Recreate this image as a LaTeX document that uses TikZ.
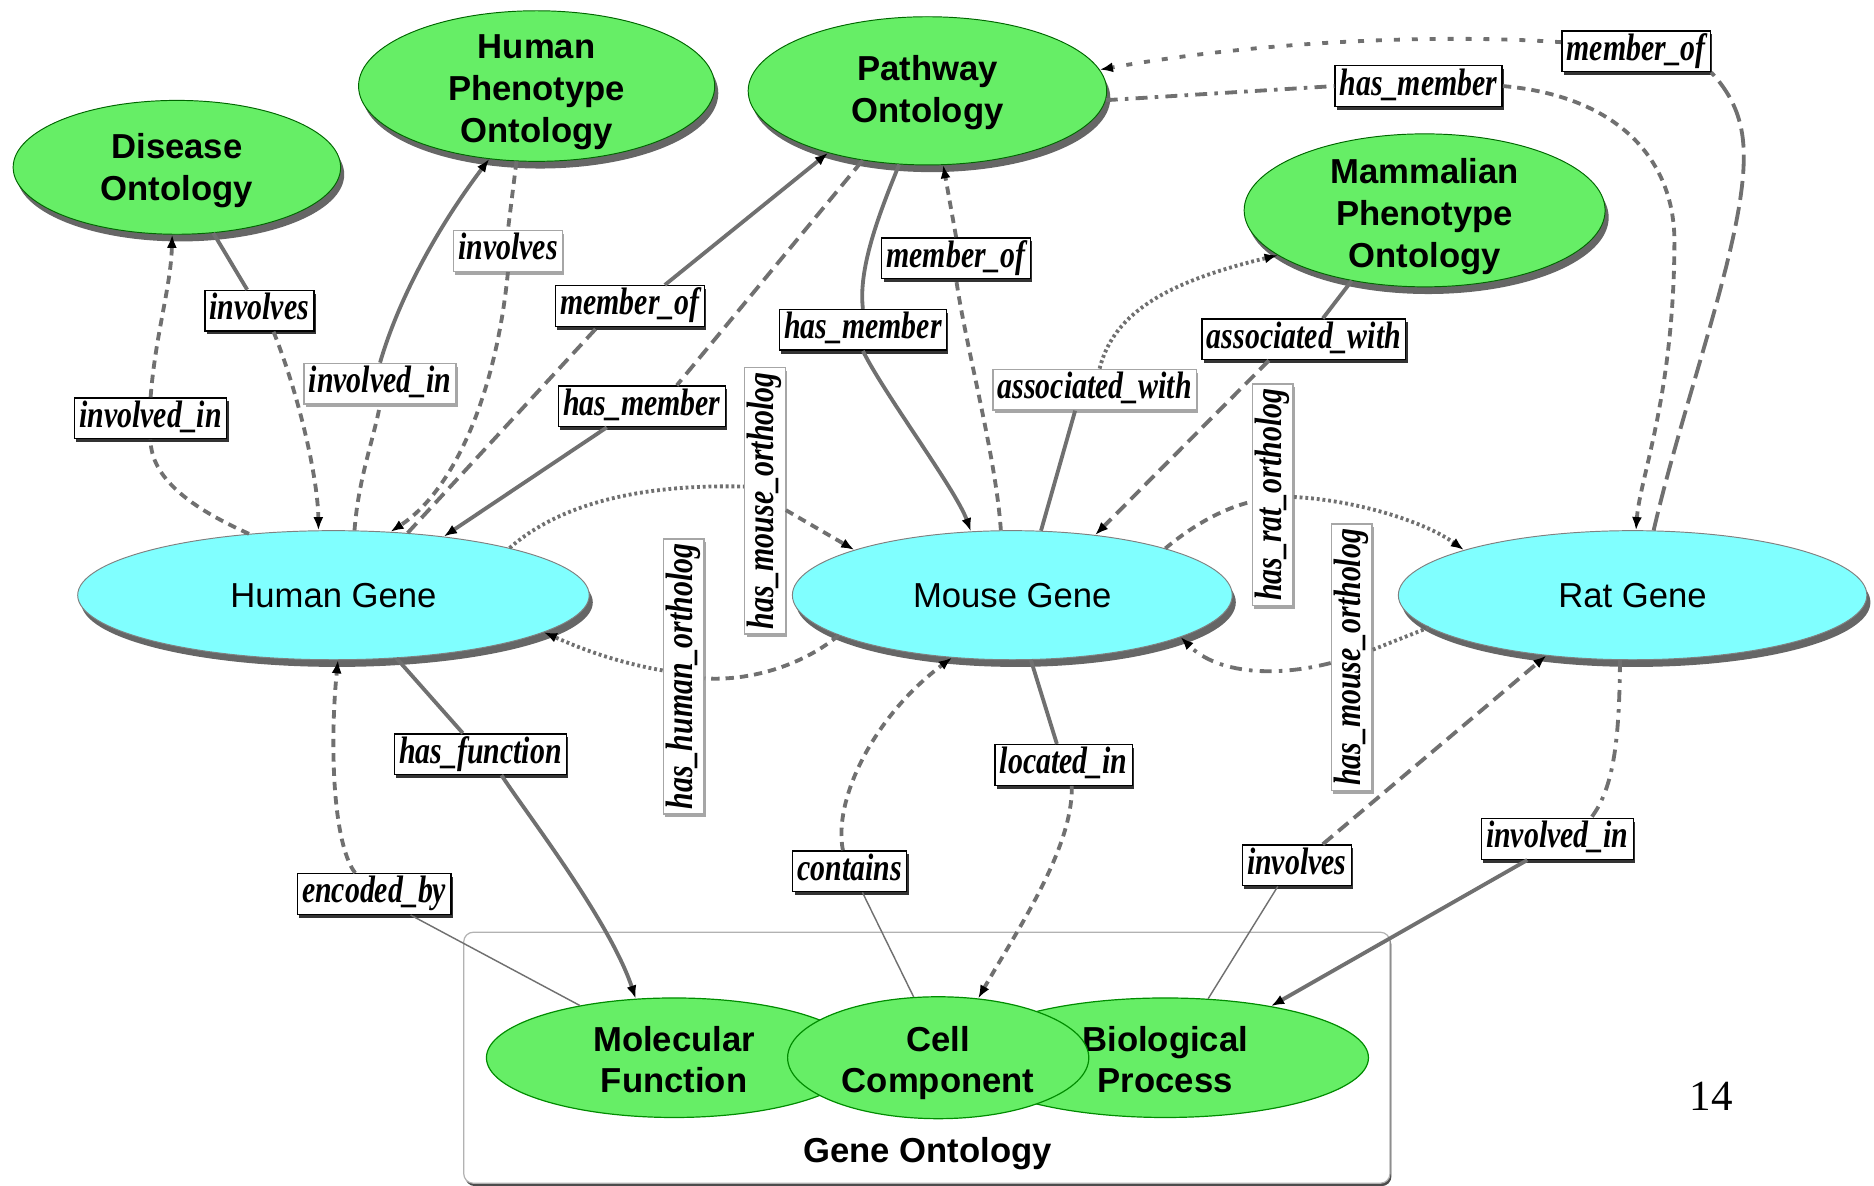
\documentclass[tikz,border=0pt]{standalone}
\usepackage{fontspec}
\setmainfont{Liberation Serif}
\setsansfont{Liberation Sans}
\usetikzlibrary{shapes.geometric,shadows,arrows.meta}
\definecolor{ontgreen}{RGB}{102,238,102}
\definecolor{genecyan}{RGB}{128,255,255}
\definecolor{edgegray}{RGB}{112,112,112}
\newcommand\lb[1]{\scalebox{0.78}[1]{#1}}
\newcommand\ml[2][-1.5pt]{\raisebox{#1}[\height][\depth]{\begin{tabular}{@{}c@{}}#2\end{tabular}}}
\begin{document}
\begin{tikzpicture}[x=0.5pt,y=-0.5pt,
  ont/.style={ellipse, draw=black!60!green, line width=0.4pt, fill=ontgreen, inner sep=-12pt,
    font=\fontsize{14.5}{17.5}\selectfont\sffamily\bfseries},
  gont/.style={ont, draw=black!45!green, line width=0.5pt},
  gene/.style={ellipse, draw=black!50, line width=0.4pt, fill=genecyan, inner sep=-12pt,
    font=\fontsize{14.5}{17}\selectfont\sffamily},
  shad/.style={drop shadow={shadow xshift=1.5pt, shadow yshift=-3pt, fill=black!60, opacity=1}},
  lab/.style={rectangle, fill=white, line width=0.6pt, inner xsep=2pt, inner ysep=0pt, minimum height=17pt,
    text height=11pt, text depth=3.5pt, font=\fontsize{16}{16}\selectfont\bfseries\itshape},
  blab/.style={lab, draw=black, drop shadow={shadow xshift=0.8pt, shadow yshift=-1.4pt, fill=black!80, opacity=1}},
  glab/.style={lab, draw=black!35, drop shadow={shadow xshift=0.8pt, shadow yshift=-1.4pt, fill=black!35, opacity=1}},
  edg/.style={draw=edgegray, line width=1.6pt},
  thinedg/.style={line width=0.6pt},
  arr/.style={-{Latex[length=5.5pt,width=4.2pt,color=black]}},
  sdsh/.style={dash pattern=on 3.5pt off 2.5pt},
  ldsh/.style={dash pattern=on 5.5pt off 3pt},
  vldsh/.style={dash pattern=on 8pt off 3pt},
  dtd/.style={dash pattern=on 1.2pt off 1.2pt},
  ldot/.style={dash pattern=on 2.5pt off 5pt},
  dshdt/.style={dash pattern=on 5pt off 3pt on 1.5pt off 3pt}
]
\useasboundingbox (0,0) rectangle (1568,992);

% Gene Ontology group
\node[draw=black!30, line width=0.5pt, fill=white, rounded corners=4pt, minimum width=387.5pt, minimum height=105pt,
  drop shadow={shadow xshift=0.6pt, shadow yshift=-1.2pt, fill=black!70, opacity=1}] (go) at (775.5,885) {};
\node[font=\fontsize{14.5}{17}\selectfont\sffamily\bfseries] (gol) at (776,965) {Gene Ontology};
\node[gont, minimum width=157pt, minimum height=50pt] (mf) at (564,885) {\ml[-2.5pt]{Molecular\\Function}};
\node[gont, minimum width=170pt, minimum height=50pt] (bp) at (975,885) {\ml[-2.5pt]{Biological\\Process}};
\node[gont, minimum width=126pt, minimum height=51pt] (cc) at (785,885) {\ml[-2.5pt]{Cell\\Component}};

% ontologies
\node[ont, shad, minimum width=137pt, minimum height=56pt] (do) at (148,140) {\ml{Disease\\Ontology}};
\node[ont, shad, minimum width=149pt, minimum height=63pt] (hpo) at (449,72) {\ml[-2.5pt]{Human\\Phenotype\\Ontology}};
\node[ont, shad, minimum width=150pt, minimum height=62pt] (pw) at (776,76) {\ml[-0.8pt]{Pathway\\Ontology}};
\node[ont, shad, minimum width=151pt, minimum height=64pt] (mpo) at (1192,176) {\ml[-2.8pt]{Mammalian\\Phenotype\\Ontology}};

% genes
\node[gene, shad, minimum width=214pt, minimum height=54pt] (hg) at (279,498) {Human Gene};
\node[gene, shad, minimum width=184pt, minimum height=54pt] (mg) at (847,498) {Mouse Gene};
\node[gene, shad, minimum width=196pt, minimum height=54pt] (rg) at (1366,498) {Rat Gene};

\node[font=\fontsize{18}{18}\selectfont] (pg) at (1432,917) {14};

% labels
\node[blab] (l1) at (217,260) {\lb{involves}};
\node[blab] (l2) at (126,350) {\lb{involved\_in}};
\node[glab] (l3) at (425,210) {\lb{involves}};
\node[glab] (l4) at (318,321) {\lb{involved\_in}};
\node[blab] (l5) at (527,256) {\lb{member\_of}};
\node[blab] (l6) at (537,340) {\lb{has\_member}};
\node[blab] (l7) at (800,216) {\lb{member\_of}};
\node[blab] (l8) at (722,276) {\lb{has\_member}};
\node[glab, rotate=90] (l9) at (640,419) {\lb{has\_mouse\_ortholog}};
\node[glab, rotate=90] (l10) at (572,566) {\lb{has\_human\_ortholog}};
\node[glab] (l11) at (916,326) {\lb{associated\_with}};
\node[blab] (l12) at (1091,284) {\lb{associated\_with}};
\node[glab, rotate=90] (l13) at (1065,414) {\lb{has\_rat\_ortholog}};
\node[glab, rotate=90] (l14) at (1131,550) {\lb{has\_mouse\_ortholog}};
\node[blab] (l15) at (1369,43) {\lb{member\_of}};
\node[blab] (l16) at (1187,72) {\lb{has\_member}};
\node[blab] (l17) at (402,631) {\lb{has\_function}};
\node[blab] (l18) at (313,748) {\lb{encoded\_by}};
\node[blab] (l19) at (711,729) {\lb{contains}};
\node[blab] (l20) at (890,640) {\lb{located\_in}};
\node[blab] (l21) at (1085,724) {\lb{involves}};
\node[blab] (l22) at (1303,702) {\lb{involved\_in}};

% edges
\draw[edg] (do.-61) -- (l1.120);
\draw[edg,sdsh,arr] (l1.-56) .. controls (250,330) and (266,400) .. (hg.103);
\draw[edg,sdsh] (hg.144) .. controls (160,425) and (126,400) .. (l2.south);
\draw[edg,sdsh,arr] (l2.north) .. controls (130,280) and (143,240) .. (do.-94);
\draw[edg,sdsh] (hpo.-105) -- (l3.north);
\draw[edg,sdsh,arr] (l3.south) .. controls (415,330) and (380,410) .. (hg.48);
\draw[edg,sdsh] (hg.72) .. controls (300,400) and (312,370) .. (l4.south);
\draw[edg,arr] (l4.north) .. controls (335,245) and (370,185) .. (hpo.-123);
\draw[edg,ldsh] (hg.40) -- (l5.-147);
\draw[edg,arr] (l5.31) -- (pw.-148);
\draw[edg,ldsh] (pw.-133) -- (l6.31);
\draw[edg,arr] (l6.-149) -- (hg.28);
\draw[edg] (pw.-111) .. controls (735,180) and (718,225) .. (l8.north);
\draw[edg,arr] (l8.south) .. controls (740,330) and (800,410) .. (mg.123);
\draw[edg,sdsh] (mg.100) .. controls (833,380) and (808,290) .. (l7.south);
\draw[edg,sdsh,arr] (l7.north) -- (pw.-78);
\draw[edg] (mg.66) -- (l11.-133);
\draw[edg,dtd,arr] (l11.77) .. controls (932,260) and (980,235) .. (mpo.-163);
\draw[edg] (mpo.-136) -- (l12.48);
\draw[edg,ldsh,arr] (l12.-149) -- (mg.36);
\draw[edg,dshdt] (pw.-3) -- (l16.west);
\draw[edg,sdsh,arr] (l16.east) .. controls (1350,80) and (1400,130) .. (1401,200) .. controls (1401,330) and (1372,400) .. (rg.87);
\draw[edg,vldsh] (rg.72) .. controls (1410,330) and (1460,200) .. (1459,130) .. controls (1459,95) and (1445,75) .. (l15.south east);
\draw[edg,ldot,arr] (l15.173) .. controls (1200,28) and (1050,35) .. (pw.7);
\draw[edg,dtd] (hg.15) .. controls (470,420) and (540,405) .. (l9.56);
\draw[edg,sdsh,arr] (l9.-114) -- (mg.164);
\draw[edg,sdsh] (mg.193) .. controls (670,558) and (625,570) .. (l10.-95);
\draw[edg,dtd,arr] (l10.74) .. controls (510,553) and (480,540) .. (hg.-10);
\draw[edg,sdsh] (mg.17) .. controls (1000,438) and (1025,425) .. (l13.108);
\draw[edg,dtd,arr] (l13.-96) .. controls (1130,418) and (1190,435) .. (rg.165);
\draw[edg,dtd] (rg.-171) -- (l14.-70);
\draw[edg,dshdt,arr] (l14.105) .. controls (1070,566) and (1020,565) .. (mg.-14);
\draw[edg] (hg.-45) -- (l17.130);
\draw[edg,arr] (l17.-45) .. controls (440,680) and (510,770) .. (mf.123);
\draw[edg,thinedg] (mf.151) -- (l18.-30);
\draw[edg,sdsh,arr] (l18.132) .. controls (278,705) and (276,620) .. (hg.-86);
\draw[edg,thinedg] (cc.112) -- (l19.-59);
\draw[edg,sdsh,arr] (l19.108) .. controls (697,670) and (730,600) .. (mg.-134);
\draw[edg] (mg.-74) -- (l20.108);
\draw[edg,sdsh,arr] (l20.-69) .. controls (898,710) and (850,780) .. (cc.56);
\draw[edg,thinedg] (bp.54) -- (l21.-132);
\draw[edg,ldsh,arr] (l21.39) -- (rg.-145);
\draw[edg,dshdt] (rg.-101) .. controls (1355,620) and (1350,660) .. (l22.32);
\draw[edg,arr] (l22.-145) -- (bp.26);
\end{tikzpicture}
\end{document}
